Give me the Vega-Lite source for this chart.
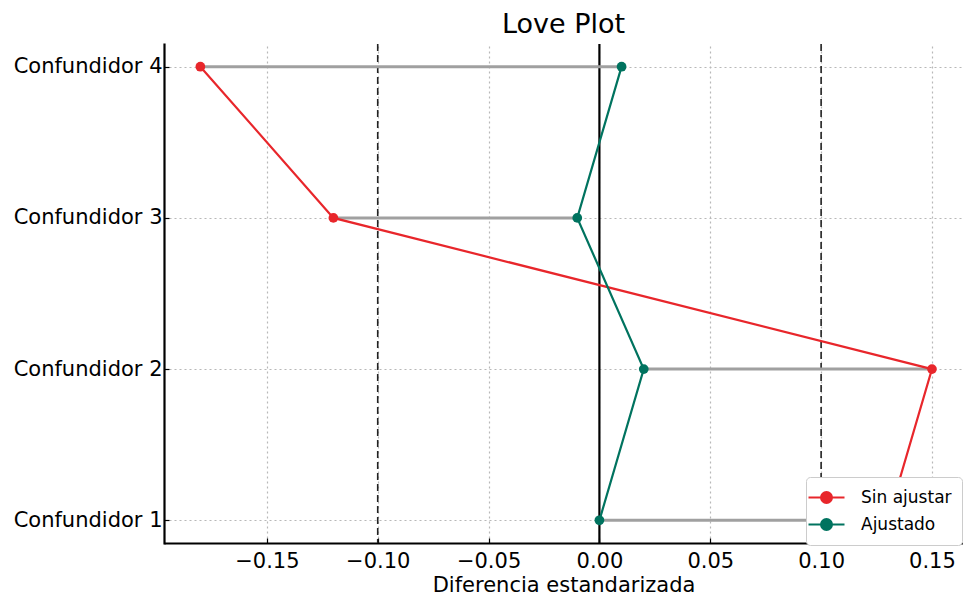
{
  "$schema": "https://vega.github.io/schema/vega-lite/v6.json",
  "width": 799,
  "height": 499,
  "autosize": "none",
  "padding": {"left": 164, "top": 44, "right": 0, "bottom": 52},
  "background": "white",
  "config": {
    "font": "DejaVu Sans",
    "view": {"stroke": null},
    "axis": {
      "domainColor": "black", "domainWidth": 2.2,
      "tickColor": "black", "tickSize": -5, "tickWidth": 1.2,
      "labelColor": "black", "labelFont": "DejaVu Sans",
      "gridColor": "#b8b8b8", "gridDash": [2, 3], "gridWidth": 1.2,
      "titleFont": "DejaVu Sans", "titleFontWeight": "normal", "titleColor": "black"
    }
  },
  "title": {"text": "Love Plot", "fontSize": 27, "font": "DejaVu Sans", "fontWeight": "normal", "anchor": "middle", "offset": 4, "color": "black"},
  "data": {
    "values": [
      {"conf": "Confundidor 1", "grupo": "Sin ajustar", "valor": 0.13},
      {"conf": "Confundidor 2", "grupo": "Sin ajustar", "valor": 0.15},
      {"conf": "Confundidor 3", "grupo": "Sin ajustar", "valor": -0.12},
      {"conf": "Confundidor 4", "grupo": "Sin ajustar", "valor": -0.18},
      {"conf": "Confundidor 1", "grupo": "Ajustado", "valor": 0.0},
      {"conf": "Confundidor 2", "grupo": "Ajustado", "valor": 0.02},
      {"conf": "Confundidor 3", "grupo": "Ajustado", "valor": -0.01},
      {"conf": "Confundidor 4", "grupo": "Ajustado", "valor": 0.01}
    ]
  },
  "encoding": {
    "y": {
      "field": "conf", "type": "nominal",
      "sort": ["Confundidor 4", "Confundidor 3", "Confundidor 2", "Confundidor 1"],
      "scale": {"type": "point", "padding": 0.15},
      "axis": {"title": null, "labelFontSize": 21, "labelPadding": 7, "grid": true, "domainCap": "square"}
    }
  },
  "layer": [
    {
      "data": {"values": [{"ref": -0.1}, {"ref": 0.1}]},
      "mark": {"type": "rule", "color": "#222222", "strokeWidth": 1.6, "strokeDash": [7, 4]},
      "encoding": {"x": {"field": "ref", "type": "quantitative"}, "y": null}
    },
    {
      "data": {"values": [{"ref": 0}]},
      "mark": {"type": "rule", "color": "black", "strokeWidth": 2.2},
      "encoding": {"x": {"field": "ref", "type": "quantitative"}, "y": null}
    },
    {
      "transform": [{"pivot": "grupo", "value": "valor", "groupby": ["conf"]}],
      "mark": {"type": "rule", "color": "#a0a0a0", "strokeWidth": 3},
      "encoding": {
        "x": {"field": "Sin ajustar", "type": "quantitative"},
        "x2": {"field": "Ajustado"}
      }
    },
    {
      "mark": {"type": "line", "strokeWidth": 2.2},
      "encoding": {
        "x": {
          "field": "valor", "type": "quantitative",
          "scale": {"domain": [-0.1964, 0.164], "nice": false, "zero": false},
          "axis": {"title": "Diferencia estandarizada", "titleFontSize": 21, "titlePadding": 3, "labelFontSize": 21, "labelPadding": 12, "values": [-0.15, -0.1, -0.05, 0, 0.05, 0.1, 0.15], "format": ".2f", "labelExpr": "replace(datum.label, '-', '\u2212')", "grid": true, "labelFlush": false}
        },
        "color": {
          "field": "grupo", "type": "nominal",
          "scale": {"domain": ["Sin ajustar", "Ajustado"], "range": ["#e8262b", "#00735f"]},
          "legend": {
            "title": null, "orient": "none", "legendX": 642, "legendY": 433,
            "symbolType": "M-2,0L2,0M-0.6,0A0.6,0.6,0,1,1,0.6,0A0.6,0.6,0,1,1,-0.6,0Z",
            "symbolSize": 324, "symbolStrokeWidth": 2.2, "symbolOpacity": 1,
            "labelFontSize": 17, "labelFont": "DejaVu Sans", "labelColor": "black", "labelOffset": 24,
            "rowPadding": 6, "padding": 10, "strokeColor": "#cccccc", "fillColor": "white", "cornerRadius": 4,
            "offset": 0
          }
        },
        "order": {"field": "conf"}
      }
    },
    {
      "mark": {"type": "circle", "size": 95, "opacity": 1},
      "encoding": {
        "x": {"field": "valor", "type": "quantitative"},
        "color": {"field": "grupo", "type": "nominal", "legend": null}
      }
    }
  ]
}
